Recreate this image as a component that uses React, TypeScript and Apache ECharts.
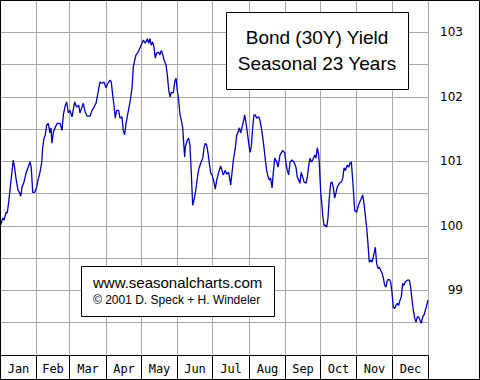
import React, { useEffect, useRef } from "react";
import * as echarts from "echarts";

// Day of year (0..365) and bond (30Y) yield seasonal index
const days = [
  0, 2.3, 3.4, 5.1, 6.2, 7.4, 8.5, 9.6, 11.3, 12.5, 13.6, 15.4, 16.5, 17.7, 18.8, 20.5, 22.2, 23.9, 25.6, 26.7,
  27.9, 29.6, 31.3, 32.4, 34.1, 35.6, 36.4, 37.5, 38.6, 39.8, 41.2, 42.6, 43.5, 44.3, 45.5, 47.2, 48.9, 51.2, 52.9, 54.0,
  55.7, 56.9, 58.2, 59.7, 61.4, 63.7, 65.4, 67.1, 68.2, 69.9, 71.0, 72.7, 74.4, 76.8, 78.5, 80.2, 81.9, 83.6, 85.3, 87.0,
  88.7, 90.4, 92.1, 93.8, 94.9, 96.1, 97.2, 98.3, 99.5, 101.2, 102.3, 104.0, 105.1, 106.3, 107.5, 109.2, 110.9, 112.6, 113.7, 114.9,
  116.0, 117.7, 119.4, 121.1, 122.2, 123.9, 125.6, 126.8, 127.9, 129.0, 130.2, 131.3, 132.4, 133.6, 135.3, 136.4, 137.6, 138.7, 139.9, 141.6,
  142.7, 143.9, 145.0, 146.1, 147.8, 149.0, 150.1, 151.2, 152.4, 153.5, 154.6, 155.8, 156.9, 157.5, 158.0, 159.7, 160.9, 162.0, 163.1, 164.3,
  165.4, 166.6, 167.7, 168.9, 170.0, 171.2, 172.9, 174.0, 175.1, 176.3, 177.4, 178.5, 179.7, 180.8, 182.5, 183.6, 184.8, 186.5, 188.2, 189.3,
  190.4, 192.1, 193.3, 195.0, 196.1, 196.7, 197.9, 199.0, 200.7, 201.9, 203.0, 204.1, 205.3, 206.4, 207.5, 208.7, 209.8, 210.9, 212.1, 213.2,
  214.3, 215.5, 216.6, 217.7, 218.9, 220.6, 221.7, 222.8, 224.0, 225.1, 226.3, 227.4, 228.6, 229.7, 230.8, 232.0, 233.1, 234.3, 236.0, 237.1,
  238.8, 239.9, 241.1, 242.8, 243.9, 245.0, 246.2, 247.3, 249.0, 250.7, 252.4, 253.5, 254.7, 255.8, 256.9, 258.1, 259.3, 261.0, 262.1, 263.3,
  264.4, 265.5, 266.7, 268.4, 269.5, 270.6, 271.8, 272.3, 273.5, 274.6, 275.2, 276.3, 277.4, 278.6, 279.7, 280.8, 282.0, 283.1, 284.2, 285.4,
  286.5, 287.6, 289.4, 291.1, 292.3, 293.4, 294.5, 296.2, 297.4, 298.5, 299.6, 300.8, 302.5, 304.2, 305.6, 307.6, 309.3, 310.4, 311.5, 312.7,
  313.8, 314.9, 316.1, 317.2, 318.4, 319.5, 320.1, 321.2, 322.4, 323.5, 324.7, 325.8, 326.9, 328.1, 329.2, 330.3, 332.0, 333.2, 334.3, 335.4,
  336.6, 337.7, 338.8, 340.0, 341.1, 342.2, 343.4, 344.5, 345.6, 347.3, 349.1, 350.2, 351.4, 352.5, 353.7, 354.8, 355.9, 357.1, 358.2, 359.3,
  360.5, 361.6, 362.7, 363.9, 365.0,
];

const yields = [
  99.98, 100.12, 100.09, 100.21, 100.2, 100.37, 100.55, 100.74, 101.02, 100.9, 100.74, 100.55, 100.52, 100.46, 100.6, 100.68, 100.82, 100.9, 100.99, 100.9,
  100.52, 100.52, 100.6, 100.71, 100.83, 100.99, 101.21, 101.36, 101.41, 101.56, 101.59, 101.44, 101.52, 101.28, 101.45, 101.53, 101.59, 101.59, 101.48, 101.72,
  101.87, 101.92, 101.75, 101.79, 101.69, 101.92, 101.84, 101.87, 101.75, 101.84, 101.9, 101.76, 101.7, 101.7, 101.79, 101.84, 101.9, 102.07, 102.23, 102.21,
  102.23, 102.14, 102.21, 102.26, 102.23, 102.03, 101.87, 101.67, 101.79, 101.79, 101.67, 101.69, 101.48, 101.41, 101.59, 101.76, 101.92, 102.14, 102.46, 102.57,
  102.65, 102.69, 102.76, 102.83, 102.88, 102.83, 102.9, 102.83, 102.9, 102.8, 102.85, 102.77, 102.6, 102.68, 102.69, 102.65, 102.72, 102.66, 102.57, 102.49,
  102.34, 102.1, 102.0, 102.07, 102.06, 102.23, 102.29, 102.1, 101.95, 101.72, 101.64, 101.52, 101.22, 101.07, 101.22, 101.33, 101.36, 101.25, 100.83, 100.32,
  100.4, 100.51, 100.66, 100.82, 100.91, 100.97, 101.05, 101.21, 101.28, 101.25, 101.13, 100.97, 100.82, 100.79, 100.68, 100.57, 100.71, 100.83, 100.93, 100.86,
  100.79, 100.86, 100.8, 100.83, 100.71, 100.63, 100.83, 101.02, 101.21, 101.41, 101.45, 101.52, 101.44, 101.53, 101.61, 101.72, 101.59, 101.45, 101.28, 101.14,
  101.22, 101.53, 101.72, 101.72, 101.67, 101.69, 101.64, 101.53, 101.38, 101.22, 101.02, 100.86, 100.76, 100.71, 100.74, 100.59, 100.83, 101.05, 100.99, 100.91,
  101.1, 101.13, 101.17, 101.13, 100.97, 100.86, 100.79, 100.99, 101.02, 100.99, 100.91, 100.76, 100.71, 100.66, 100.83, 100.76, 100.68, 100.66, 100.76, 100.94,
  101.05, 100.99, 101.02, 101.1, 101.05, 101.21, 101.1, 100.97, 100.52, 100.32, 100.17, 100.01, 100.01, 99.98, 100.12, 100.43, 100.66, 100.68, 100.6, 100.43,
  100.51, 100.6, 100.66, 100.68, 100.74, 100.9, 100.86, 100.94, 100.91, 100.97, 100.99, 100.71, 100.24, 100.21, 100.32, 100.4, 100.48, 100.35, 100.17, 99.97,
  99.73, 99.44, 99.47, 99.44, 99.52, 99.62, 99.67, 99.42, 99.34, 99.36, 99.31, 99.27, 99.19, 99.08, 99.05, 99.16, 99.17, 99.13, 98.97, 98.74,
  98.72, 98.77, 98.8, 98.77, 98.85, 98.9, 99.11, 99.08, 99.13, 99.16, 99.16, 99.05, 98.85, 98.69, 98.57, 98.51, 98.59, 98.59, 98.54, 98.49,
  98.59, 98.62, 98.69, 98.77, 98.85,
];

const months = ["Jan", "Feb", "Mar", "Apr", "May", "Jun", "Jul", "Aug", "Sep", "Oct", "Nov", "Dec"];
const monthStarts = [0, 31, 59, 90, 120, 151, 181, 212, 243, 273, 304, 334];
const monthEnds = [31, 59, 90, 120, 151, 181, 212, 243, 273, 304, 334, 365];

const yMin = 98;
const yMax = 103.5;
const yStep = 0.5;
const yLabels = [99, 100, 101, 102, 103];

const titleLines = ["Bond (30Y) Yield", "Seasonal 23 Years"];
const creditLines = ["www.seasonalcharts.com", "\u00a9 2001 D. Speck + H. Windeler"];

export default function App() {
  const ref = useRef<HTMLDivElement>(null);

  useEffect(() => {
    document.body.style.margin = "0";
    const chart = echarts.init(ref.current!, null, { renderer: "svg" });

    const monthData = months.map((m, i) => [monthStarts[i], monthEnds[i], yMin, i]);

    const renderMonth = (params: any, api: any) => {
      const s = api.value(0);
      const e = api.value(1);
      const idx = api.value(3);
      const pTop = api.coord([e, yMax]);
      const pBot = api.coord([e, yMin]);
      const pS = api.coord([s, yMin]);
      const xe = Math.round(pBot[0]) + 0.5;
      const xs = Math.round(pS[0]) + 0.5;
      const yb = Math.round(pBot[1]) + 0.5;
      return {
        type: "group",
        children: [
          {
            type: "line",
            shape: { x1: xe, y1: Math.round(pTop[1]), x2: xe, y2: yb },
            style: { stroke: "#a8a8a8", lineWidth: 1 },
          },
          {
            type: "rect",
            shape: { x: xs, y: yb, width: xe - xs, height: 24 },
            style: { fill: "#fff", stroke: "#000", lineWidth: 1 },
          },
          {
            type: "text",
            x: (xs + xe) / 2,
            y: yb + 13,
            style: {
              text: months[idx],
              fill: "#000",
              font: "12px 'DejaVu Sans Mono'",
              align: "center",
              verticalAlign: "middle",
            },
          },
        ],
      };
    };

    chart.setOption({
      animation: false,
      backgroundColor: "#fff",
      grid: { left: 0, top: 0, width: 428, height: 355, show: false },
      xAxis: {
        type: "value",
        min: 0,
        max: 365,
        show: false,
      },
      yAxis: {
        type: "value",
        position: "right",
        min: yMin,
        max: yMax,
        interval: yStep,
        axisLine: { show: false },
        axisTick: { show: false },
        splitLine: { show: true, lineStyle: { color: "#a8a8a8", width: 1 } },
        axisLabel: {
          align: "right",
          margin: 35,
          color: "#000",
          fontFamily: "DejaVu Sans",
          fontSize: 12,
          formatter: (v: number) => {
            const hit = yLabels.find((l) => Math.abs(l - v) < 1e-6);
            return hit === undefined ? "" : String(hit);
          },
        },
      },
      series: [
        {
          type: "custom",
          name: "months",
          renderItem: renderMonth,
          data: monthData,
          encode: { x: [0, 1], y: 2 },
          clip: false,
          silent: true,
          z: 1,
        },
        {
          type: "line",
          name: "Bond (30Y) Yield",
          data: days.map((d, i) => [d, yields[i]]),
          showSymbol: false,
          symbol: "none",
          lineStyle: { color: "#0000b8", width: 1.3 },
          z: 3,
        },
      ],
      graphic: [
        {
          type: "rect",
          shape: { x: 226.5, y: 12.5, width: 182, height: 77 },
          style: { fill: "#fff", stroke: "#000", lineWidth: 1 },
          z: 10,
        },
        {
          type: "text",
          x: 317,
          y: 37,
          style: {
            text: titleLines[0],
            fill: "#000",
            font: "19px 'Liberation Sans'",
            align: "center",
            verticalAlign: "middle",
          },
          z: 11,
        },
        {
          type: "text",
          x: 317,
          y: 63,
          style: {
            text: titleLines[1],
            fill: "#000",
            font: "19px 'Liberation Sans'",
            align: "center",
            verticalAlign: "middle",
          },
          z: 11,
        },
        {
          type: "rect",
          shape: { x: 81.5, y: 266.5, width: 193, height: 50 },
          style: { fill: "#fff", stroke: "#000", lineWidth: 1 },
          z: 10,
        },
        {
          type: "text",
          x: 93,
          y: 282,
          style: {
            text: creditLines[0],
            fill: "#000",
            font: "15px 'Liberation Sans'",
            align: "left",
            verticalAlign: "middle",
          },
          z: 11,
        },
        {
          type: "text",
          x: 93,
          y: 300,
          style: {
            text: creditLines[1],
            fill: "#000",
            font: "12px 'Liberation Sans'",
            align: "left",
            verticalAlign: "middle",
          },
          z: 11,
        },
        {
          type: "rect",
          shape: { x: 0.5, y: 0.5, width: 479, height: 379 },
          style: { fill: "none", stroke: "#000", lineWidth: 1 },
          z: 20,
          silent: true,
        },
      ],
    });

    return () => chart.dispose();
  }, []);

  return <div ref={ref} style={{ position: "absolute", left: 0, top: 0, width: 480, height: 380 }} />;
}
